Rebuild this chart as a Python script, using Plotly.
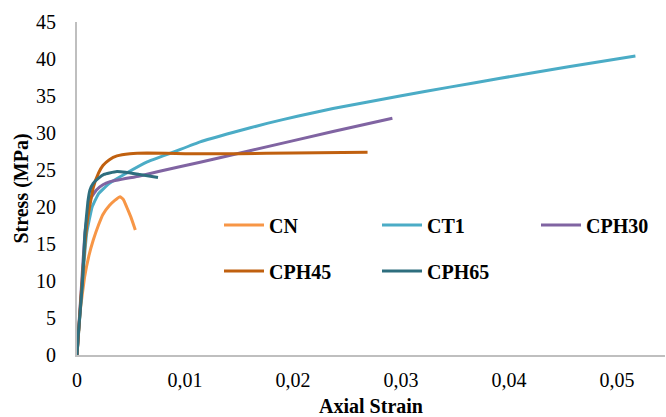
import plotly.graph_objects as go

# ---- data ----
cn_x = [0, 0.0003, 0.0007, 0.0011, 0.0015, 0.002, 0.0024, 0.003, 0.0035, 0.004, 0.0043, 0.0046, 0.005, 0.0054]
cn_y = [0, 6, 10.5, 13.4, 15.5, 17.6, 19.0, 20.2, 20.9, 21.4, 21.0, 20.0, 18.6, 16.9]

ct1_x = [0, 0.0004, 0.0009, 0.0014, 0.002, 0.003, 0.0046, 0.0065, 0.0089, 0.0114, 0.0145, 0.0176, 0.0205, 0.0237, 0.0299, 0.0345, 0.0392, 0.0455, 0.0517]
ct1_y = [0, 8, 16.5, 20, 21.8, 23.2, 24.6, 26.1, 27.4, 28.8, 30.1, 31.3, 32.3, 33.3, 35.0, 36.2, 37.4, 38.95, 40.4]

cph30_x = [0, 0.0004, 0.00074, 0.0012, 0.0018, 0.0024, 0.003, 0.0058, 0.0095, 0.0114, 0.016, 0.0237, 0.0292]
cph30_y = [0, 9, 16.5, 21, 22.3, 23.0, 23.4, 24.2, 25.45, 26.05, 27.6, 30.2, 32.0]

cph45_x = [0, 0.0004, 0.00074, 0.001, 0.0015, 0.002, 0.0024, 0.003, 0.0037, 0.0049, 0.0065, 0.01, 0.015, 0.02, 0.0269]
cph45_y = [0, 8.5, 15.1, 18.6, 22.6, 24.6, 25.6, 26.4, 26.9, 27.2, 27.3, 27.2, 27.2, 27.3, 27.4]

cph65_x = [0, 0.0001, 0.0005, 0.00074, 0.001, 0.0012, 0.0015, 0.002, 0.0025, 0.003, 0.0037, 0.0045, 0.0058, 0.0075]
cph65_y = [0, 2.4, 9.7, 16.5, 20.6, 22.3, 23.2, 23.9, 24.4, 24.6, 24.8, 24.7, 24.4, 24.0]

names = ["CN", "CT1", "CPH30", "CPH45", "CPH65"]
colors = ["#F79646", "#4BACC6", "#8064A2", "#C0600F", "#2E6E7E"]
series = [(cn_x, cn_y), (ct1_x, ct1_y), (cph30_x, cph30_y), (cph45_x, cph45_y), (cph65_x, cph65_y)]
legend_ids = ["legend", "legend2", "legend3", "legend4", "legend5"]

x_ticks = [0, 0.01, 0.02, 0.03, 0.04, 0.05]
y_ticks = [0, 5, 10, 15, 20, 25, 30, 35, 40, 45]

FONT = "Times New Roman, Liberation Serif, DejaVu Serif, serif"

L, R, T, B, W, H = 77, 1, 22, 62, 666, 417
PW, PH = W - L - R, H - T - B


def lx(px):
    return (px - L) / PW


def ly(py):
    return (H - B - py) / PH


fig = go.Figure()
for (xs, ys), n, c, lg in zip(series, names, colors, legend_ids):
    fig.add_trace(go.Scatter(x=xs, y=ys, mode="lines", name=n, showlegend=True,
                             line=dict(color=c, width=3, shape="spline", smoothing=0.3),
                             legend=lg))

legend_common = dict(orientation="h", xanchor="left", yanchor="middle", visible=True,
                     itemwidth=40,
                     font=dict(family=FONT, size=20, color="black", weight="bold"),
                     bgcolor="rgba(0,0,0,0)", borderwidth=0)

leg_pos = [(219, 225), (377, 225), (536, 225), (219, 271), (377, 271)]
legends = {}
for lid, (px, py) in zip(legend_ids, leg_pos):
    legends[lid] = dict(x=lx(px), y=ly(py), **legend_common)

fig.update_layout(
    width=W, height=H,
    showlegend=True,
    margin=dict(l=L, r=R, t=T, b=B),
    paper_bgcolor="white", plot_bgcolor="white",
    separators=",.",
    font=dict(family=FONT, size=20, color="black"),
    xaxis=dict(range=[0, 0.05444], tickvals=x_ticks, showgrid=False, zeroline=False,
               showline=True, linecolor="#BFBFBF", linewidth=2, automargin=False,
               ticks="", ticklabelstandoff=6,
               tickfont=dict(family=FONT, size=20, color="black"),
               title=dict(text="Axial Strain", standoff=15,
                          font=dict(family=FONT, size=20, color="black", weight="bold"))),
    yaxis=dict(range=[0, 45], tickvals=y_ticks, showgrid=False, zeroline=False,
               showline=True, linecolor="#BFBFBF", linewidth=2, automargin=False,
               ticks="", ticklabelstandoff=15,
               tickfont=dict(family=FONT, size=20, color="black"),
               title=dict(text="Stress (MPa)", standoff=2,
                          font=dict(family=FONT, size=20, color="black", weight="bold"))),
    **legends,
)

fig.write_html("out.html", config={"displayModeBar": False},
               post_script="document.body.style.margin='0';document.body.style.padding='0';")
